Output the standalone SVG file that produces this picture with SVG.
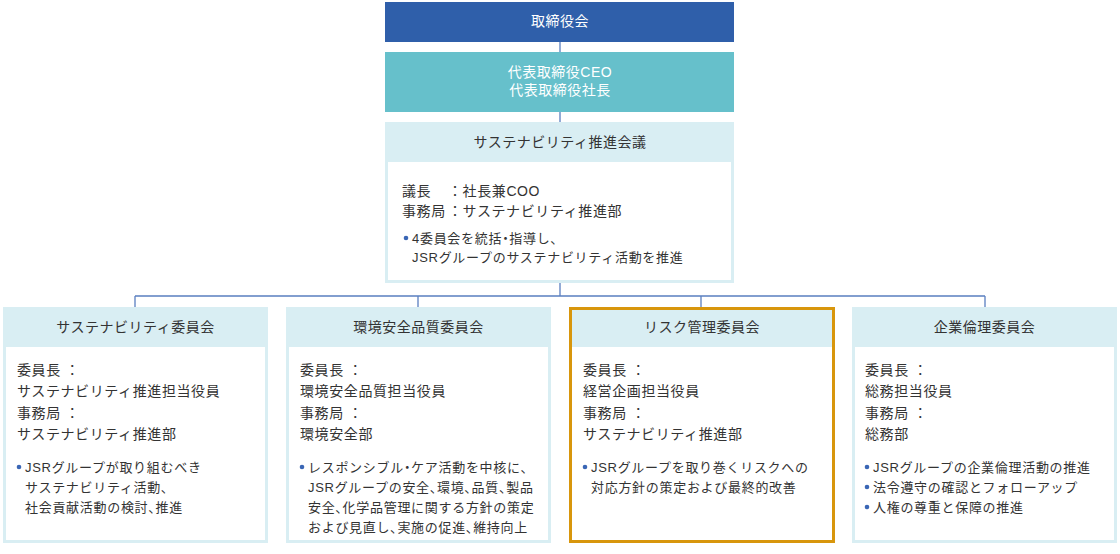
<svg xmlns="http://www.w3.org/2000/svg" width="1120" height="554" viewBox="0 0 1120 554">
<style>
text{font-family:"Liberation Sans","Noto Sans CJK JP",sans-serif;fill:#333;}
.t{font-size:14px;letter-spacing:0.5px;text-anchor:middle;}
.w{fill:#fff;}
.b{font-size:14px;letter-spacing:0.6px;}
.s{font-size:13px;letter-spacing:0.7px;}
.p{font-feature-settings:"palt";}
.lt{fill:#d9eef3;}
.wh{fill:#fff;}
.dot{fill:#3a66b5;}
.con{stroke:#5a7fc0;stroke-width:1.3;fill:none;}
</style>
<rect width="1120" height="554" fill="#fff"/>
<g id="connectors">
<path class="con" d="M560 42V52M560 112V122M560 283V296M135 296H985M135 296V307M418 296V307M701 296V307M985 296V307"/>
</g>
<g id="board">
<rect x="385" y="2" width="349" height="40" fill="#2f5faa"/>
<text class="t w" x="560" y="26">取締役会</text>
</g>
<g id="ceo">
<rect x="385" y="52" width="349" height="60" fill="#66c0cb"/>
<text class="t w" x="560" y="77">代表取締役CEO</text>
<text class="t w" x="560" y="95">代表取締役社長</text>
</g>
<g id="council">
<rect class="lt" x="385" y="122" width="349" height="161"/>
<rect class="wh" x="388" y="162" width="343" height="118"/>
<text class="t" x="560" y="147">サステナビリティ推進会議</text>
<text class="b" x="402" y="196">議長</text><text class="b" x="448" y="196">：社長兼COO</text>
<text class="b" x="402" y="216">事務局</text><text class="b" x="448" y="216">：サステナビリティ推進部</text>
<circle class="dot" cx="406" cy="238" r="2.3"/>
<text class="s" x="412" y="243">4委員会を統括<tspan class="p">・</tspan>指導し<tspan class="p">、</tspan></text>
<text class="s" x="412" y="262">JSRグループのサステナビリティ活動を推進</text>
</g>
<g id="sustainability-committee">
<rect class="lt" x="3" y="307" width="265" height="236"/>
<rect class="wh" x="6" y="347" width="259" height="193"/>
<text class="t" x="135.5" y="332">サステナビリティ委員会</text>
<text class="b" x="17" y="375">委員長 ：</text>
<text class="b" x="17" y="396">サステナビリティ推進担当役員</text>
<text class="b" x="17" y="418">事務局 ：</text>
<text class="b" x="17" y="439">サステナビリティ推進部</text>
<circle class="dot" cx="19" cy="467" r="2.3"/>
<text class="s" x="25" y="472">JSRグループが取り組むべき</text>
<text class="s" x="25" y="492">サステナビリティ活動<tspan class="p">、</tspan></text>
<text class="s" x="25" y="512">社会貢献活動の検討<tspan class="p">、</tspan>推進</text>
</g>
<g id="environment-committee">
<rect class="lt" x="286" y="307" width="265" height="236"/>
<rect class="wh" x="289" y="347" width="259" height="193"/>
<text class="t" x="418.5" y="332">環境安全品質委員会</text>
<text class="b" x="300" y="375">委員長 ：</text>
<text class="b" x="300" y="396">環境安全品質担当役員</text>
<text class="b" x="300" y="418">事務局 ：</text>
<text class="b" x="300" y="439">環境安全部</text>
<circle class="dot" cx="302" cy="467" r="2.3"/>
<text class="s" x="308" y="472">レスポンシブル<tspan class="p">・</tspan>ケア活動を中核に<tspan class="p">、</tspan></text>
<text class="s" x="308" y="492">JSRグループの安全<tspan class="p">、</tspan>環境<tspan class="p">、</tspan>品質<tspan class="p">、</tspan>製品</text>
<text class="s" x="308" y="512">安全<tspan class="p">、</tspan>化学品管理に関する方針の策定</text>
<text class="s" x="308" y="532">および見直し<tspan class="p">、</tspan>実施の促進<tspan class="p">、</tspan>維持向上</text>
</g>
<g id="risk-committee">
<rect x="570.5" y="308.5" width="263" height="233" fill="#fff" stroke="#d8960c" stroke-width="3"/>
<rect class="lt" x="572" y="310" width="260" height="37"/>
<text class="t" x="702" y="332">リスク管理委員会</text>
<text class="b" x="583" y="375">委員長 ：</text>
<text class="b" x="583" y="396">経営企画担当役員</text>
<text class="b" x="583" y="418">事務局 ：</text>
<text class="b" x="583" y="439">サステナビリティ推進部</text>
<circle class="dot" cx="585" cy="467" r="2.3"/>
<text class="s" x="591" y="472">JSRグループを取り巻くリスクへの</text>
<text class="s" x="591" y="492">対応方針の策定および最終的改善</text>
</g>
<g id="ethics-committee">
<rect class="lt" x="852" y="307" width="265" height="236"/>
<rect class="wh" x="855" y="347" width="259" height="193"/>
<text class="t" x="984.5" y="332">企業倫理委員会</text>
<text class="b" x="865" y="375">委員長 ：</text>
<text class="b" x="865" y="396">総務担当役員</text>
<text class="b" x="865" y="418">事務局 ：</text>
<text class="b" x="865" y="439">総務部</text>
<circle class="dot" cx="867" cy="467" r="2.3"/>
<text class="s" x="873" y="472">JSRグループの企業倫理活動の推進</text>
<circle class="dot" cx="867" cy="487" r="2.3"/>
<text class="s" x="873" y="492">法令遵守の確認とフォローアップ</text>
<circle class="dot" cx="867" cy="507" r="2.3"/>
<text class="s" x="873" y="512">人権の尊重と保障の推進</text>
</g>
</svg>
